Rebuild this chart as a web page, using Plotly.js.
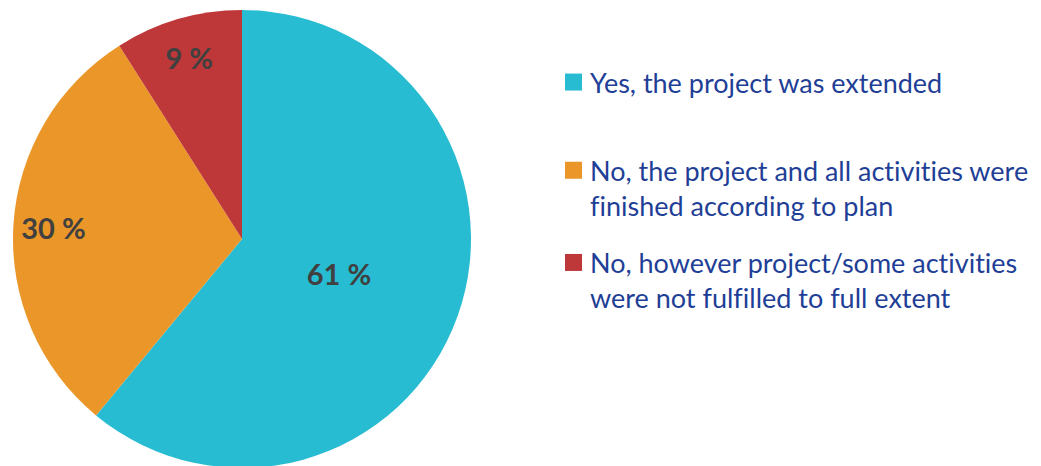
<!DOCTYPE html>
<html><head><meta charset="utf-8">
<script src="https://cdn.plot.ly/plotly-3.0.1.min.js"></script>
<style>
html,body{margin:0;padding:0;overflow:hidden;background:#fff}
text{font-variant-ligatures:none;font-feature-settings:"liga" 0,"dlig" 0,"clig" 0;}
</style>
</head><body><div id="chart" style="width:1041px;height:468px"></div>
<script>
const categories = [
  "Yes, the project was extended<br>\u00a0",
  "No, the project and all activities were<br>finished according to plan",
  "No, however project/some activities<br>were not fulfilled to full extent"
];
const values = [61, 30, 9];
const colors = ["#28BCD2", "#EB9629", "#BE383A"];

const W = 1041, H = 468;
const dom = {x: [13 / W, 471 / W], y: [0, (H - 10) / H]};
// concentric, slightly smaller domain for the label of the large slice
const domInner = {x: [36 / W, 448 / W], y: [23 / H, (H - 33) / H]};
const labelFont = {family: 'Lato, sans-serif', size: 29, color: '#404040', weight: 'bold'};
const clear = ['rgba(0,0,0,0)', 'rgba(0,0,0,0)', 'rgba(0,0,0,0)'];

const pie = {
  type: 'pie',
  labels: categories,
  values: values,
  sort: false,
  direction: 'clockwise',
  rotation: 0,
  marker: {colors: colors, line: {width: 0}},
  textinfo: 'none',
  hoverinfo: 'none',
  domain: dom
};
// transparent overlays used only to place the value labels
const inner = {
  type: 'pie', labels: categories, values: values, sort: false,
  direction: 'clockwise', rotation: 0, showlegend: false,
  marker: {colors: clear, line: {width: 0}},
  texttemplate: ['%{value} %', '', ''],
  textposition: 'inside', insidetextorientation: 'horizontal',
  textfont: labelFont, hoverinfo: 'none', domain: domInner
};
const ring = {
  type: 'pie', labels: categories, values: values, sort: false,
  direction: 'clockwise', rotation: 0, hole: 0.65, showlegend: false,
  marker: {colors: clear, line: {width: 0}},
  texttemplate: ['', '%{value} %', '%{value} %'],
  textposition: 'inside', insidetextorientation: 'horizontal',
  textfont: labelFont, hoverinfo: 'none', domain: dom
};
const layout = {
  width: W, height: H,
  margin: {l: 0, r: 0, t: 0, b: 0},
  paper_bgcolor: '#fff',
  showlegend: true,
  legend: {
    x: 550 / W, y: (H - 58) / H, xanchor: 'left', yanchor: 'top',
    valign: 'top',
    font: {family: 'Lato, sans-serif', size: 27, color: '#1F3F97'},
    bgcolor: 'rgba(0,0,0,0)'
  }
};
Plotly.newPlot('chart', [pie, inner, ring], layout, {staticPlot: true}).then(function (gd) {
  // enlarge legend swatches and add spacing between legend entries
  const extra = [0, 15, 34];
  gd.querySelectorAll('.legend .traces').forEach(function (g, i) {
    const t = g.getAttribute('transform') || '';
    const m = /translate\(([-\d.]+)[ ,]+([-\d.]+)\)/.exec(t);
    if (m) g.setAttribute('transform', 'translate(' + m[1] + ',' + (parseFloat(m[2]) + (extra[i] || 0)) + ')');
  });
  gd.querySelectorAll('.legend .legendpoints path').forEach(function (p) {
    p.setAttribute('d', 'M12,8.5H-5V-8.5H12Z');
  });
  gd.querySelectorAll('.legend .scrollbox').forEach(function (s) {
    s.removeAttribute('clip-path');
  });
});
</script>
</body></html>
